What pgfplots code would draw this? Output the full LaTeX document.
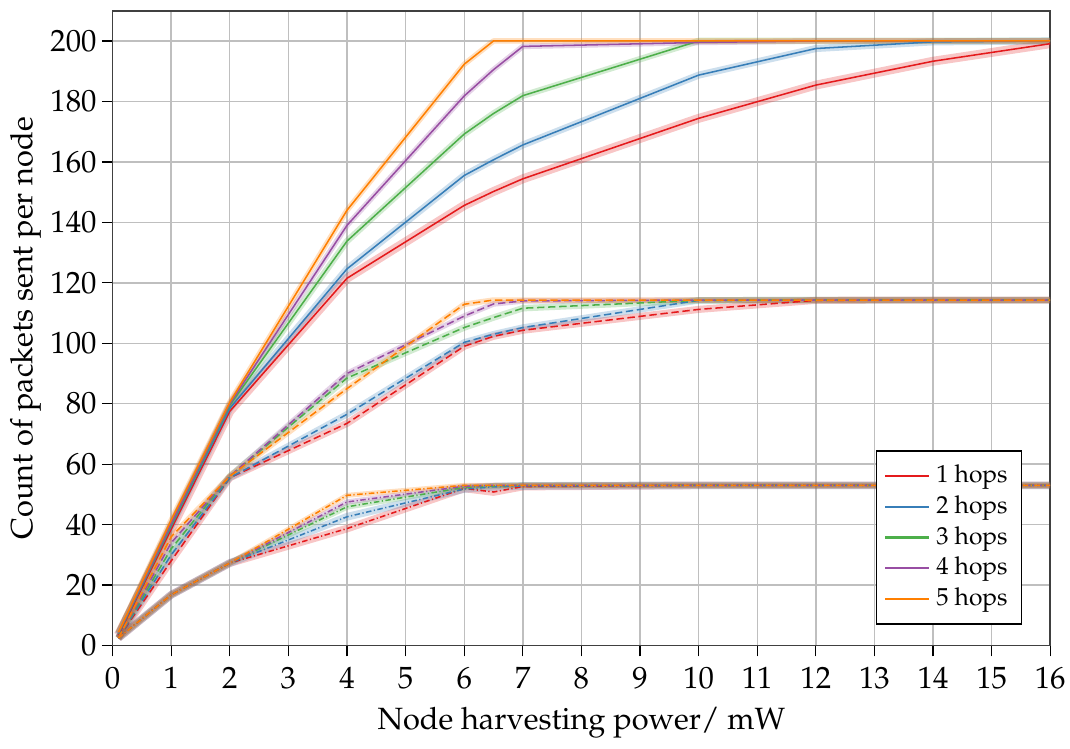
\documentclass[border={0pt 0pt -1.9pt 3.25pt}]{standalone}
\usepackage[T1]{fontenc}
\usepackage{mathpazo}
\usepackage{pgfplots}
\usepackage{pgfplotstable}
\pgfplotsset{compat=1.18}

\definecolor{cr}{HTML}{E41A1C}
\definecolor{cb}{HTML}{377EB8}
\definecolor{cg}{HTML}{4DAF4A}
\definecolor{cp}{HTML}{984EA3}
\definecolor{co}{HTML}{FF7F00}

\pgfplotstableread{
x    r     b     g     p     o
0.1  3.5   3.8   4.0   4.2   4.4
1    38.5  39.5  40.0  40.5  41.5
2    77.5  78.5  79.5  80.0  80.5
4    121.5 124.6 133.8 139.0 144.0
6    145.6 155.5 169.2 181.8 192.3
6.5  150.2 160.7 176.0 190.5 200.0
7    154.4 165.6 181.9 198.2 200.0
10   174.4 188.7 200.0 199.5 200.0
12   185.4 197.5 200.0 200.0 200.0
14   193.3 199.7 200.0 200.0 200.0
16   199.1 200.0 200.0 200.0 200.0
}\solid

\pgfplotstableread{
x    r     b     g     p     o
0.1  2.5   2.5   2.5   2.5   2.5
1    28.0  30.0  32.0  34.0  36.0
2    55.5  55.5  56.0  56.0  56.0
4    73.5  76.5  88.5  90.0  85.0
6    99.0  100.3 105.2 109.0 112.9
6.5  102.3 103.0 108.5 113.0 114.3
7    104.3 105.2 111.6 114.0 114.3
10   111.2 114.2 114.2 114.3 114.3
12   114.2 114.3 114.3 114.3 114.3
14   114.3 114.3 114.3 114.3 114.3
16   114.3 114.3 114.3 114.3 114.3
}\dashedtab

\pgfplotstableread{
x    r     b     g     p     o
0.1  2.5   2.5   2.5   2.5   2.5
1    16.8  16.8  16.8  16.8  16.8
2    27.3  27.3  27.3  27.3  27.3
4    38.7  42.6  45.9  47.5  49.7
6    52.0  51.8  52.3  52.7  53.0
6.5  50.8  52.5  52.8  53.0  53.0
7    52.6  52.8  53.0  53.0  53.0
10   53.0  53.0  53.0  53.0  53.0
12   53.0  53.0  53.0  53.0  53.0
14   53.0  53.0  53.0  53.0  53.0
16   53.0  53.0  53.0  53.0  53.0
}\dashdottab

\newcommand{\band}[4]{\addplot[forget plot, draw=#1, draw opacity=0.25, line width=#4, line join=round] table[x=x, y=#2] {#3};}

\begin{document}
\begin{tikzpicture}
\begin{axis}[
  scale only axis,
  width=305pt, height=206.5pt,
  xmin=0, xmax=16, ymin=0, ymax=210,
  xtick={0,1,...,16},
  ytick={0,20,...,200},
  tick align=outside,
  xtick pos=bottom, ytick pos=left,
  major tick length=3.5pt,
  tick style={black, line width=0.4pt},
  axis line style={black!75, line width=0.5pt},
  grid=major,
  grid style={black!25, line width=0.45pt},
  yticklabel style={inner xsep=1.5pt},
  xlabel={Node harvesting power/ mW},
  ylabel={Count of packets sent per node},
  xlabel shift=-1pt,
  ylabel shift=-2pt,
  legend style={at={(0.97,0.033)}, anchor=south east, draw=black, line width=0.4pt, font=\footnotesize, row sep=-1.3pt, inner sep=2.5pt},
  legend cell align=left,
  legend image code/.code={\draw[#1, line width=0.8pt] (0cm,0cm) -- (0.5cm,0cm);},
]
% bands
\band{cr}{r}{\solid}{2.9pt}
\band{cb}{b}{\solid}{2.3pt}
\band{cg}{g}{\solid}{2.1pt}
\band{cp}{p}{\solid}{1.8pt}
\band{co}{o}{\solid}{1.8pt}
\band{cr}{r}{\dashedtab}{2.3pt}
\band{cb}{b}{\dashedtab}{2.1pt}
\band{cg}{g}{\dashedtab}{2.1pt}
\band{cp}{p}{\dashedtab}{1.8pt}
\band{co}{o}{\dashedtab}{1.8pt}
\band{cr}{r}{\dashdottab}{2.5pt}
\band{cb}{b}{\dashdottab}{2.5pt}
\band{cg}{g}{\dashdottab}{1.9pt}
\band{cp}{p}{\dashdottab}{1.7pt}
\band{co}{o}{\dashdottab}{1.6pt}
% solid lines (legend)
\addplot[cr, line width=0.5pt] table[x=x, y=r] {\solid};
\addlegendentry{1 hops}
\addplot[cb, line width=0.5pt] table[x=x, y=b] {\solid};
\addlegendentry{2 hops}
\addplot[cg, line width=0.5pt] table[x=x, y=g] {\solid};
\addlegendentry{3 hops}
\addplot[cp, line width=0.5pt] table[x=x, y=p] {\solid};
\addlegendentry{4 hops}
\addplot[co, line width=0.5pt] table[x=x, y=o] {\solid};
\addlegendentry{5 hops}
% dashed
\addplot[forget plot, cr, line width=0.5pt, dash pattern=on 2.4pt off 1.2pt] table[x=x, y=r] {\dashedtab};
\addplot[forget plot, cb, line width=0.5pt, dash pattern=on 2.4pt off 1.2pt] table[x=x, y=b] {\dashedtab};
\addplot[forget plot, cg, line width=0.5pt, dash pattern=on 2.4pt off 1.2pt] table[x=x, y=g] {\dashedtab};
\addplot[forget plot, cp, line width=0.5pt, dash pattern=on 2.4pt off 1.2pt] table[x=x, y=p] {\dashedtab};
\addplot[forget plot, co, line width=0.5pt, dash pattern=on 2.4pt off 1.2pt] table[x=x, y=o] {\dashedtab};
% dash-dot
\addplot[forget plot, cr, line width=0.5pt, dash pattern=on 1.8pt off 0.8pt on 0.4pt off 0.8pt] table[x=x, y=r] {\dashdottab};
\addplot[forget plot, cb, line width=0.5pt, dash pattern=on 1.8pt off 0.8pt on 0.4pt off 0.8pt] table[x=x, y=b] {\dashdottab};
\addplot[forget plot, cg, line width=0.5pt, dash pattern=on 1.8pt off 0.8pt on 0.4pt off 0.8pt] table[x=x, y=g] {\dashdottab};
\addplot[forget plot, cp, line width=0.5pt, dash pattern=on 1.8pt off 0.8pt on 0.4pt off 0.8pt] table[x=x, y=p] {\dashdottab};
\addplot[forget plot, co, line width=0.5pt, dash pattern=on 1.8pt off 0.8pt on 0.4pt off 0.8pt] table[x=x, y=o] {\dashdottab};
\end{axis}
\end{tikzpicture}
\end{document}
